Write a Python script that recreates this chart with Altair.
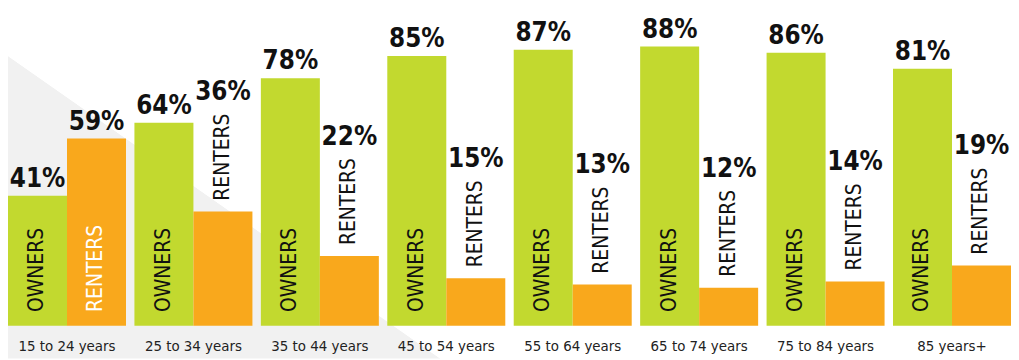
import altair as alt
import pandas as pd

# ---- data ----
groups = ["15 to 24 years", "25 to 34 years", "35 to 44 years", "45 to 54 years",
          "55 to 64 years", "65 to 74 years", "75 to 84 years", "85 years+"]
owners = [41, 64, 78, 85, 87, 88, 86, 81]
renters = [59, 36, 22, 15, 13, 12, 14, 19]
types = ["OWNERS", "RENTERS"]
colors = ["#c2d92f", "#f9a81c"]

rows = []
for g, o, r in zip(groups, owners, renters):
    rows.append({"group": g, "type": "OWNERS", "value": o})
    rows.append({"group": g, "type": "RENTERS", "value": r})
df = pd.DataFrame(rows)
df["label"] = df["value"].astype(str) + "%"
df["inside"] = (df["type"] == "OWNERS") | (df["value"] > 50)
df["tcolor"] = ["#111111" if t == "OWNERS" else "#ffffff" for t in df["type"]]

W, H, BASE = 1011, 352, 319
FONT = "DejaVu Sans Condensed, sans-serif"

x = alt.X("group:N", sort=groups, axis=None,
          scale=alt.Scale(paddingInner=0.0667, paddingOuter=0))
xo = alt.XOffset("type:N", sort=types, scale=alt.Scale(paddingInner=0, paddingOuter=0))
y = alt.Y("value:Q", axis=None, scale=alt.Scale(domain=[0, 100], range=[BASE, BASE - 320]))

# decorative light-grey diagonal backdrop
grad = alt.LinearGradient(
    gradient="linear",
    stops=[alt.GradientStop(color="#f1f1f1", offset=0),
           alt.GradientStop(color="#ffffff", offset=0.001)],
    x1=0, y1=0.1352, x2=0.8954, y2=-0.3102,
)
bg = alt.Chart(pd.DataFrame({"k": [0]})).mark_rect(fill=grad).encode(
    x=alt.value(0), x2=alt.value(W), y=alt.value(0), y2=alt.value(H)
)

base = alt.Chart(df)

bars = base.mark_bar().encode(
    x=x, xOffset=xo, y=y,
    color=alt.Color("type:N", sort=types, scale=alt.Scale(domain=types, range=colors), legend=None),
)

pct_in = base.transform_filter("datum.inside").mark_text(
    font=FONT, fontSize=26, fontWeight="bold", baseline="alphabetic", dy=-9, color="#111111"
).encode(x=x, xOffset=xo, y=y, text="label:N")

pct_out = base.transform_filter("!datum.inside").mark_text(
    font=FONT, fontSize=26, fontWeight="bold", baseline="alphabetic", dy=-112, color="#111111"
).encode(x=x, xOffset=xo, y=y, text="label:N")

name_in = base.transform_filter("datum.inside").mark_text(
    font=FONT, fontSize=21, angle=270, align="left", baseline="middle"
).encode(x=x, xOffset=xo, y=alt.value(BASE - 14), text="type:N",
         color=alt.Color("tcolor:N", scale=None))

name_out = base.transform_filter("!datum.inside").mark_text(
    font=FONT, fontSize=21, angle=270, align="left", baseline="middle", dx=11, color="#111111"
).encode(x=x, xOffset=xo, y=y, text="type:N")

xlab = alt.Chart(pd.DataFrame({"group": groups})).mark_text(
    font=FONT, fontSize=15, baseline="middle", color="#222222"
).encode(x=x, y=alt.value(BASE + 20), text="group:N")

chart = alt.layer(bg, bars, pct_in, pct_out, name_in, name_out, xlab).properties(
    width=W, height=H, padding=0, autosize=alt.AutoSizeParams(type="none")
).configure_view(stroke=None)

chart.save("out.html", embed_options={"renderer": "svg", "actions": False})
